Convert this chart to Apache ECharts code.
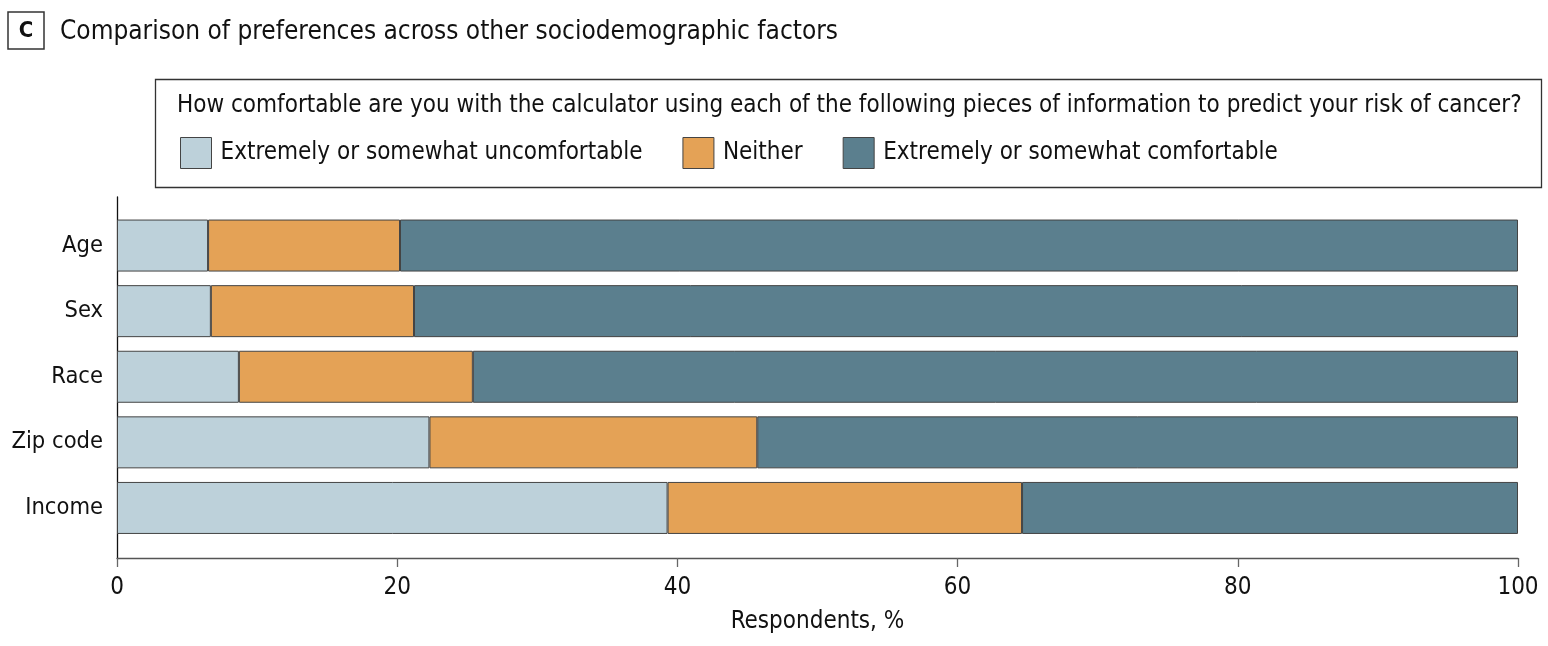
<!DOCTYPE html>
<html>
<head>
<meta charset="utf-8">
<script src="https://cdn.jsdelivr.net/npm/echarts@6/dist/echarts.min.js"></script>
<style>
  html, body {margin: 0; padding: 0; background: #fff;}
  #chart {width: 1548px; height: 646px;}
</style>
</head>
<body>
<div id="chart"></div>
<script>
// 数据 (respondents, %)
const categories = ['Age', 'Sex', 'Race', 'Zip code', 'Income'];
const uncomfortable = [6.5, 6.7, 8.7, 22.3, 39.3];
const neither = [13.7, 14.5, 16.7, 23.4, 25.3];
const comfortable = [79.8, 78.8, 74.6, 54.3, 35.4];
const xTicks = [0, 20, 40, 60, 80, 100];

const seriesNames = ['Extremely or somewhat uncomfortable', 'Neither', 'Extremely or somewhat comfortable'];
const colors = ['#bdd1da', '#e4a256', '#5b7f8e'];
const font = '"Liberation Sans Narrow", "DejaVu Sans Condensed", "Noto Sans", sans-serif';

const chart = echarts.init(document.getElementById('chart'));

chart.setOption({
  animation: false,
  textStyle: {fontFamily: font},
  title: {
    left: 3,
    top: 7,
    text: '{c|C}{t|Comparison of preferences across other sociodemographic factors}',
    textStyle: {
      fontWeight: 'normal',
      rich: {
        c: {
          fontFamily: font, fontSize: 22, fontWeight: 'bold', color: '#111',
          borderColor: '#333', borderWidth: 1.5, padding: [8, 11, 7, 11],
          width: 14, align: 'center'
        },
        t: {fontFamily: font, fontSize: 26, fontWeight: 'normal', color: '#111', padding: [4, 0, 0, 16]}
      }
    }
  },
  graphic: [
    {
      type: 'rect',
      shape: {x: 155.5, y: 79.5, width: 1386, height: 108},
      style: {fill: 'none', stroke: '#333', lineWidth: 1.3}
    },
    {
      type: 'text',
      left: 177,
      top: 94,
      style: {
        text: 'How comfortable are you with the calculator using each of the following pieces of information to predict your risk of cancer?',
        fontFamily: font, fontSize: 24, fill: '#111'
      }
    }
  ],
  legend: {
    left: 175,
    top: 132,
    itemWidth: 31,
    itemHeight: 31,
    itemGap: 40,
    icon: 'rect',
    data: seriesNames,
    textStyle: {fontFamily: font, fontSize: 24, color: '#111', padding: [0, 0, 0, 4]},
    itemStyle: {borderColor: '#444', borderWidth: 1}
  },
  grid: [
    // axis frame
    {left: 117, right: 30, top: 197, bottom: 88},
    // bars
    {left: 117, right: 30, top: 212.75, height: 328}
  ],
  xAxis: [
    {
      gridIndex: 0,
      type: 'value',
      min: 0,
      max: 100,
      interval: 20,
      name: 'Respondents, %',
      nameLocation: 'middle',
      nameGap: 52,
      nameTextStyle: {fontFamily: font, fontSize: 24, color: '#111'},
      axisLine: {show: true, lineStyle: {color: '#555', width: 1.3}},
      axisTick: {show: true, length: 9, lineStyle: {color: '#666', width: 1.3}},
      axisLabel: {
        fontFamily: font, fontSize: 24, color: '#111', margin: 18,
        formatter: v => xTicks.includes(v) ? String(v) : ''
      },
      splitLine: {show: false}
    },
    {
      gridIndex: 1,
      type: 'value',
      min: 0,
      max: 100,
      show: false
    }
  ],
  yAxis: [
    {
      gridIndex: 0,
      type: 'value',
      min: 0,
      max: 1,
      axisLine: {show: true, lineStyle: {color: '#111', width: 1.3}},
      axisTick: {show: false},
      axisLabel: {show: false},
      splitLine: {show: false}
    },
    {
      gridIndex: 1,
      type: 'category',
      inverse: true,
      data: categories,
      axisLine: {show: false},
      axisTick: {show: false},
      axisLabel: {fontFamily: font, fontSize: 23.5, color: '#111', margin: 14}
    }
  ],
  series: [uncomfortable, neither, comfortable].map((d, i) => ({
    name: seriesNames[i],
    type: 'bar',
    stack: 'total',
    xAxisIndex: 1,
    yAxisIndex: 1,
    barWidth: 52,
    data: d,
    itemStyle: {color: colors[i], borderColor: '#444', borderWidth: 1}
  }))
});
</script>
</body>
</html>
